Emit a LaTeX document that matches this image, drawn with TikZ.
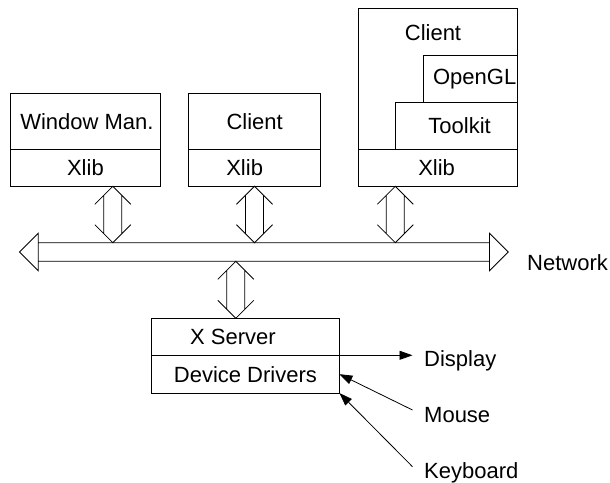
\documentclass[tikz,border=0pt]{standalone}
\usepackage{fontspec}
\setmainfont{Liberation Sans}
\usetikzlibrary{calc,arrows.meta}
\begin{document}
\begin{tikzpicture}[x=1pt,y=-1pt,
  lw/.style={line width=0.8pt},
  box/.style 2 args={draw,lw,inner sep=0pt,outer sep=0pt,minimum width=#1,minimum height=#2,font=\fontsize{22}{26}\selectfont},
  lbl/.style={inner sep=0pt,font=\fontsize{22}{26}\selectfont},
  dblv/.style={lw,to path={
    ($(\tikztostart)+(-18pt,-18pt)$) -- (\tikztostart) -- ($(\tikztostart)+(18pt,-18pt)$)
    ($(\tikztostart)+(-9pt,-9pt)$) -- ($(\tikztotarget)+(-9pt,9pt)$)
    ($(\tikztostart)+(9pt,-9pt)$) -- ($(\tikztotarget)+(9pt,9pt)$)
    ($(\tikztotarget)+(-18pt,18pt)$) -- (\tikztotarget) -- ($(\tikztotarget)+(18pt,18pt)$)
  }},
  dblh/.style={lw,to path={
    ($(\tikztostart)+(18.7pt,18.7pt)$) -- (\tikztostart) -- ($(\tikztostart)+(18.7pt,-18.7pt)$) -- cycle
    ($(\tikztostart)+(18.7pt,9.3pt)$) -- ($(\tikztotarget)+(-18.7pt,9.3pt)$)
    ($(\tikztostart)+(18.7pt,-9.3pt)$) -- ($(\tikztotarget)+(-18.7pt,-9.3pt)$)
    ($(\tikztotarget)+(-18.7pt,18.7pt)$) -- (\tikztotarget) -- ($(\tikztotarget)+(-18.7pt,-18.7pt)$) -- cycle
  }},
  sig/.style={lw,-{Triangle[length=13pt,width=9pt]}}
]
\useasboundingbox (0,0) rectangle (610,482);

% client boxes
\node[box={149.8pt}{56.7pt}] (wmtop) at (85.4,121.35) {\kern3pt Window Man.};
\node[box={149.8pt}{36.6pt}] (wmlib) at (85.4,168) {Xlib};
\node[box={131.9pt}{56.7pt}] (cltop) at (254.65,121.35) {Client};
\node[box={131.9pt}{36.6pt}] (cllib) at (254.65,168) {Xlib\kern20pt};
\node[box={158.8pt}{178pt}] (big) at (437.6,97.3) {};
\node[lbl,anchor=base] (bigcl) at (433,40.5) {Client};
\node[box={93.7pt}{47pt}] (opengl) at (470.15,78.8) {\kern9pt OpenGL};
\node[box={121.7pt}{47.4pt}] (toolkit) at (456.15,126) {\kern7pt Toolkit};
\node[box={158.8pt}{36.6pt}] (biglib) at (437.6,168) {Xlib\kern2pt};

% server
\node[box={188pt}{37pt}] (server) at (245.4,336.8) {X Server\kern25pt};
\node[box={188pt}{37.7pt}] (drivers) at (245.4,374.15) {Device Drivers};

% network bus
\coordinate (busL) at (19.5,252);
\coordinate (busR) at (508.2,252);
\draw[dblh] (busL) to (busR);
\node[lbl,anchor=base west] (net) at (527,270.5) {Network};

% vertical double arrows
\coordinate (a1t) at (112.8,186.3);
\coordinate (a1b) at (112.8,242.7);
\coordinate (a2t) at (254.5,186.3);
\coordinate (a2b) at (254.5,242.7);
\coordinate (a3t) at (395.3,186.3);
\coordinate (a3b) at (395.3,242.7);
\coordinate (a4t) at (235.8,261.3);
\coordinate (a4b) at (235.8,318.3);
\draw[dblv] (a1t) to (a1b);
\draw[dblv] (a2t) to (a2b);
\draw[dblv] (a3t) to (a3b);
\draw[dblv] (a4t) to (a4b);

% devices
\node[lbl,anchor=base west] (disp) at (424,366) {Display};
\node[lbl,anchor=base west] (mouse) at (424,422) {Mouse};
\node[lbl,anchor=base west] (kbd) at (424,478) {Keyboard};
\coordinate (dp) at (412.5,355.3);
\coordinate (ms) at (412.5,410);
\coordinate (kb) at (412.5,466.7);
\draw[sig] (drivers.north east) -- (dp);
\draw[sig] (ms) -- (drivers.east);
\draw[sig] (kb) -- (drivers.south east);
\end{tikzpicture}
\end{document}
